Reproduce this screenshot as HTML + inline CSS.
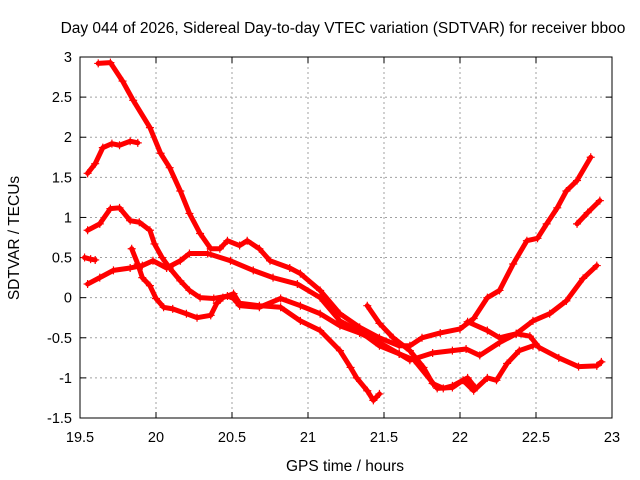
<!DOCTYPE html>
<html><head><meta charset="utf-8"><style>
body{margin:0;background:#fff}
svg{display:block;font-family:"Liberation Sans",sans-serif}
</style></head><body>
<svg id="chart" width="640" height="480">
<rect width="640" height="480" fill="#fff"/>
<text x="343" y="33" font-size="15.5" text-anchor="middle">Day 044 of 2026, Sidereal Day-to-day VTEC variation (SDTVAR) for receiver bboo</text>
<text x="345" y="471" font-size="15.5" text-anchor="middle">GPS time / hours</text>
<text transform="translate(19,238) rotate(-90)" font-size="15.5" text-anchor="middle">SDTVAR / TECUs</text>
<g id="grid"></g><g id="ticks"></g><g id="series"></g>
<rect x="80" y="57" width="532" height="361" fill="none" stroke="#000"/>
</svg>
<script>
const xTicks=[19.5,20,20.5,21,21.5,22,22.5,23];
const yTicks=[-1.5,-1,-0.5,0,0.5,1,1.5,2,2.5,3];
const satA=[[19.62,2.92],[19.70,2.93],[19.78,2.7],[19.85,2.46],[19.96,2.12],[20.03,1.8],[20.09,1.62],[20.16,1.33],[20.22,1.05],[20.29,0.8],[20.36,0.61],[20.42,0.61],[20.47,0.71],[20.55,0.65],[20.6,0.71],[20.68,0.61],[20.75,0.46],[20.88,0.37],[20.95,0.3],[21.08,0.09],[21.21,-0.2],[21.34,-0.37],[21.47,-0.5],[21.6,-0.6],[21.67,-0.6],[21.75,-0.5],[21.87,-0.44],[22.0,-0.39],[22.09,-0.26],[22.18,0],[22.26,0.09],[22.35,0.42],[22.44,0.71],[22.51,0.74],[22.57,0.92],[22.64,1.12],[22.7,1.33],[22.77,1.46],[22.86,1.75]];
const satA2=[[22.77,0.92],[22.84,1.06],[22.92,1.21]];
const satB=[[19.55,1.55],[19.6,1.67],[19.65,1.87],[19.71,1.92],[19.76,1.9],[19.83,1.95],[19.88,1.93]];
const satC=[[19.55,0.84],[19.63,0.92],[19.7,1.11],[19.76,1.12],[19.83,0.96],[19.89,0.94],[19.96,0.84],[19.99,0.67],[20.04,0.5],[20.09,0.37],[20.16,0.21],[20.22,0.09],[20.29,0],[20.38,-0.01],[20.47,0.02],[20.51,-0.01],[20.55,-0.1],[20.68,-0.12],[20.82,-0.01],[20.95,-0.1],[21.08,-0.2],[21.21,-0.35],[21.34,-0.44],[21.47,-0.56],[21.6,-0.7],[21.67,-0.78],[21.82,-0.69],[21.95,-0.66],[22.04,-0.64],[22.13,-0.72],[22.26,-0.56],[22.37,-0.45],[22.48,-0.29],[22.59,-0.2],[22.7,-0.04],[22.81,0.24],[22.9,0.4]];
const satD=[[19.55,0.17],[19.63,0.25],[19.72,0.34],[19.83,0.37],[19.91,0.4],[19.98,0.46],[20.07,0.37],[20.16,0.46],[20.22,0.55],[20.34,0.55],[20.49,0.46],[20.64,0.34],[20.77,0.25],[20.93,0.17],[21.08,0],[21.21,-0.29],[21.34,-0.42],[21.47,-0.6],[21.6,-0.7],[21.7,-0.78],[21.85,-1.13],[21.95,-1.12],[22.02,-1.03],[22.09,-1.16],[22.18,-1.0],[22.24,-1.03],[22.31,-0.82],[22.39,-0.66],[22.48,-0.6]];
const satH=[[22.05,-0.3],[22.18,-0.41],[22.26,-0.5],[22.37,-0.45],[22.46,-0.48],[22.52,-0.62],[22.65,-0.75],[22.78,-0.86],[22.9,-0.85],[22.93,-0.8]];
const satE=[[19.53,0.5],[19.57,0.48],[19.6,0.47]];
const satF=[[19.84,0.61],[19.88,0.42],[19.91,0.25],[19.96,0.15],[20.0,-0.01],[20.05,-0.12],[20.11,-0.14],[20.2,-0.2],[20.27,-0.25],[20.36,-0.22],[20.4,-0.07],[20.44,0.0],[20.51,0.05],[20.55,-0.07],[20.68,-0.1],[20.82,-0.12],[20.95,-0.29],[21.08,-0.41],[21.21,-0.66],[21.28,-0.87],[21.32,-1.0],[21.39,-1.16],[21.43,-1.28],[21.47,-1.2]];
const satG=[[21.39,-0.1],[21.47,-0.32],[21.56,-0.5],[21.67,-0.66],[21.76,-0.87],[21.82,-1.07],[21.89,-1.13],[21.95,-1.1],[22.05,-1.0],[22.1,-1.12]];
const allSeries=[satA,satA2,satB,satC,satD,satH,satE,satF,satG];
const NS='http://www.w3.org/2000/svg';
const X=v=>80+(v-19.5)/3.5*532;
const Y=v=>418-(v+1.5)/4.5*361;
function mk(t,a,p){const e=document.createElementNS(NS,t);for(const k in a)e.setAttribute(k,a[k]);p.appendChild(e);return e;}
const grid=document.getElementById('grid'),ticks=document.getElementById('ticks'),ser=document.getElementById('series');
xTicks.forEach(t=>{const x=X(t);
 if(t>19.5&&t<23){const l=mk('line',{x1:x,x2:x,y1:57,y2:418,stroke:'#a0a0a0','stroke-dasharray':'2,3'},grid);
 
 }
 mk('line',{x1:x,x2:x,y1:418,y2:412,stroke:'#000'},ticks);mk('line',{x1:x,x2:x,y1:57,y2:63,stroke:'#000'},ticks);
 const tx=mk('text',{x:x,y:442,'font-size':14.5,'text-anchor':'middle'},ticks);tx.textContent=t;
 
 });
yTicks.forEach(t=>{const y=Y(t);
 if(t>-1.5&&t<3){const l=mk('line',{x1:80,x2:612,y1:y,y2:y,stroke:'#a0a0a0','stroke-dasharray':'2,3'},grid);
 
 }
 mk('line',{x1:80,x2:86,y1:y,y2:y,stroke:'#000'},ticks);mk('line',{x1:612,x2:606,y1:y,y2:y,stroke:'#000'},ticks);
 const tx=mk('text',{x:72,y:y+5,'font-size':14.5,'text-anchor':'end'},ticks);tx.textContent=t;
 
 });
allSeries.forEach((s,i)=>{
 const g=mk('g',{},ser);
 
 
 mk('polyline',{points:s.map(p=>X(p[0])+','+Y(p[1])).join(' '),fill:'none',stroke:'#f00','stroke-width':5,'stroke-linejoin':'round','stroke-linecap':'round'},g);
 s.forEach(p=>{const x=X(p[0]),y=Y(p[1]);
  const m=mk('path',{d:`M${x-4},${y}H${x+4}M${x},${y-4}V${y+4}`,stroke:'#f00','stroke-width':1.2},g);
  
  });
});
</script>
</body></html>
